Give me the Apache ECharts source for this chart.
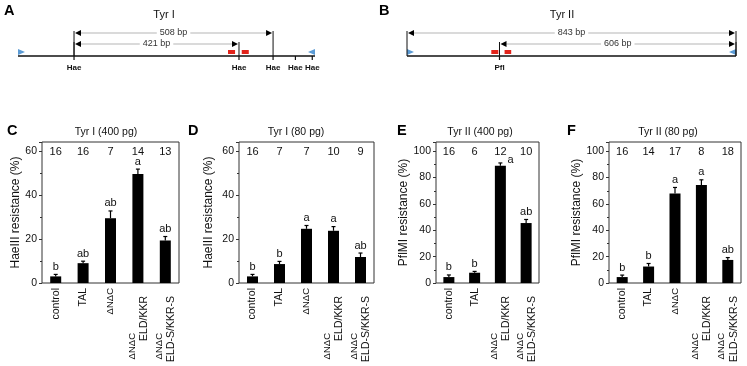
<!DOCTYPE html>
<html>
<head>
<meta charset="utf-8">
<script src="https://cdn.jsdelivr.net/npm/echarts@6/dist/echarts.min.js"></script>
<style>html,body{margin:0;padding:0;background:#fff}#c{width:747px;height:366px}</style>
</head>
<body>
<div id="c"></div>
<script>
const FONT = '"Liberation Sans", Arial, Helvetica, sans-serif';
const TXT = '#111';

// ---------- Panel A: Tyr I locus (bp, relative to first HaeIII site)
const tyr1Span = [-143, 615];
const tyr1Sites = [0, 421, 508, 565, 608];
const tyr1SiteName = 'Hae';
const tyr1Arrows = [[0, 508], [0, 421]];
const tyr1ArrowLabels = ['508 bp', '421 bp'];
const tyr1Tal = [[393, 411], [428, 446]];
const tyr1Primers = [[-143, 1], [615, -1]];

// ---------- Panel B: Tyr II locus
const tyr2Span = [0, 843];
const tyr2Sites = [237];
const tyr2SiteName = 'Pfl';
const tyr2Arrows = [[0, 843], [237, 843]];
const tyr2ArrowLabels = ['843 bp', '606 bp'];
const tyr2Tal = [[216, 234], [250, 267]];
const tyr2Primers = [[0, 1], [843, -1]];

// ---------- Bar panels
const catsFive = ['control', 'TAL', 'ΔNΔC', 'ΔNΔC\nELD/KKR', 'ΔNΔC\nELD-S/KKR-S'];
const catsFour = ['control', 'TAL', 'ΔNΔC\nELD/KKR', 'ΔNΔC\nELD-S/KKR-S'];

const valC = [3.0, 9.0, 29.4, 49.5, 19.3];
const errC = [0.9, 0.9, 3.3, 2.2, 1.8];
const nC = [16, 16, 7, 14, 13];
const sigC = ['b', 'ab', 'ab', 'a', 'ab'];

const valD = [3.0, 8.6, 24.6, 23.7, 11.8];
const errD = [0.9, 1.2, 1.5, 1.9, 1.8];
const nD = [16, 7, 7, 10, 9];
const sigD = ['b', 'b', 'a', 'a', 'ab'];

const valE = [4.5, 7.8, 89.0, 45.5];
const errE = [1.6, 1.0, 2.1, 2.7];
const nE = [16, 6, 12, 10];
const sigE = ['b', 'b', 'a', 'ab'];

const valF = [4.5, 12.5, 68.0, 74.3, 17.5];
const errF = [1.5, 2.3, 4.5, 4.0, 1.8];
const nF = [16, 14, 17, 8, 18];
const sigF = ['b', 'b', 'a', 'a', 'ab'];

const ticksHae = [0, 20, 40, 60];
const ticksPfl = [0, 20, 40, 60, 80, 100];

const panels = [
  {letter: 'C', title: 'Tyr I (400 pg)', cats: catsFive, val: valC, err: errC, n: nC, sig: sigC, ticks: ticksHae, yname: 'HaeIII resistance (%)',
   left: 42, width: 137, ymax: 64, nameGap: 15, titleX: 106, letterX: 7},
  {letter: 'D', title: 'Tyr I (80 pg)', cats: catsFive, val: valD, err: errD, n: nD, sig: sigD, ticks: ticksHae, yname: 'HaeIII resistance (%)',
   left: 239, width: 135, ymax: 64, nameGap: 24, titleX: 296, letterX: 188},
  {letter: 'E', title: 'Tyr II (400 pg)', cats: catsFour, val: valE, err: errE, n: nE, sig: sigE, ticks: ticksPfl, yname: 'PflMI resistance (%)',
   left: 436, width: 103, ymax: 107, nameGap: 26, titleX: 480, letterX: 397},
  {letter: 'F', title: 'Tyr II (80 pg)', cats: catsFive, val: valF, err: errF, n: nF, sig: sigF, ticks: ticksPfl, yname: 'PflMI resistance (%)',
   left: 609, width: 132, ymax: 107, nameGap: 26, titleX: 668, letterX: 567}
];

const GTOP = 142, GH = 141;

const grid = [], xAxis = [], yAxis = [], series = [], graphic = [];

panels.forEach((p, k) => {
  grid.push({left: p.left, top: GTOP, width: p.width, height: GH, show: true, borderColor: '#333', borderWidth: 1, backgroundColor: 'transparent'});
  xAxis.push({
    type: 'category', gridIndex: k, data: p.cats,
    axisLine: {show: false}, axisTick: {show: false},
    axisLabel: {
      interval: 0, rotate: 90, margin: 5, fontSize: 10.5, fontFamily: FONT, color: TXT,
      formatter: function (v) {
        const parts = v.split('\n');
        if (parts.length === 1) return parts[0] === 'ΔNΔC' ? '{d|ΔNΔC}' : v;
        return '{a|' + parts[0] + '}\n{b|' + parts[1] + '}';
      },
      rich: {
        d: {fontSize: 9.5, fontFamily: FONT, color: TXT},
        a: {align: 'right', padding: [0, 45, 0, 0], fontSize: 9.5, fontFamily: FONT, color: TXT, lineHeight: 12},
        b: {align: 'right', padding: [0, 8, 0, 0], fontSize: 10.5, fontFamily: FONT, color: TXT, lineHeight: 12}
      }
    }
  });
  yAxis.push({
    type: 'value', gridIndex: k, min: 0, max: p.ymax, interval: 20,
    name: p.yname, nameLocation: 'middle', nameGap: p.nameGap,
    nameTextStyle: {fontSize: 12, fontFamily: FONT, color: TXT},
    axisLine: {show: false}, splitLine: {show: false},
    axisTick: {show: true, length: 3, lineStyle: {color: '#333'}},
    minorTick: {show: true, splitNumber: 2, length: 2, lineStyle: {color: '#333'}},
    axisLabel: {fontSize: 10.5, fontFamily: FONT, color: TXT, margin: 5,
      formatter: v => (p.ticks.indexOf(v) >= 0 ? String(v) : '')}
  });
  series.push({
    type: 'bar', xAxisIndex: k, yAxisIndex: k, data: p.val, barWidth: 11,
    itemStyle: {color: '#000'}, silent: true, animation: false
  });
  series.push({
    type: 'custom', xAxisIndex: k, yAxisIndex: k, silent: true, animation: false,
    data: p.val.map((v, i) => [i, v, p.err[i]]),
    renderItem: function (params, api) {
      const i = api.value(0), v = api.value(1), e = api.value(2);
      const p0 = api.coord([i, v]), p1 = api.coord([i, v + e]);
      const cs = params.coordSys;
      const sig = p.sig[params.dataIndex];
      const crowded = p1[1] - 14 < cs.y + 10;
      const txt = crowded
        ? {text: sig, x: p1[0] + 7, y: p1[1] - 3, align: 'left', verticalAlign: 'middle', fill: TXT, fontSize: 11, fontFamily: FONT}
        : {text: sig, x: p1[0], y: p1[1] - 2, align: 'center', verticalAlign: 'bottom', fill: TXT, fontSize: 11, fontFamily: FONT};
      return {type: 'group', children: [
        {type: 'line', shape: {x1: p0[0], y1: p0[1], x2: p1[0], y2: p1[1]}, style: {stroke: '#000', lineWidth: 1.2}},
        {type: 'line', shape: {x1: p1[0] - 2, y1: p1[1], x2: p1[0] + 2, y2: p1[1]}, style: {stroke: '#000', lineWidth: 1.2}},
        {type: 'text', style: txt}
      ]};
    }
  });
  series.push({
    type: 'custom', xAxisIndex: k, yAxisIndex: k, silent: true, animation: false,
    data: p.n.map((v, i) => [i, 0]),
    renderItem: function (params, api) {
      const c = api.coord([api.value(0), 0]);
      return {type: 'text', style: {text: String(p.n[params.dataIndex]), x: c[0], y: params.coordSys.y + 9.5,
        align: 'center', verticalAlign: 'middle', fill: TXT, fontSize: 11, fontFamily: FONT}};
    }
  });
  graphic.push({type: 'text', x: p.letterX, y: 131, style: {text: p.letter, font: 'bold 14.5px ' + FONT, fill: '#000', textAlign: 'left', textVerticalAlign: 'middle', align: 'left', verticalAlign: 'middle'}});
  graphic.push({type: 'text', x: p.titleX, y: 132, style: {text: p.title, font: '10.5px ' + FONT, fill: TXT, textAlign: 'center', textVerticalAlign: 'middle', align: 'center', verticalAlign: 'middle'}});
});

// ---------- schematics
function schematic(ax, span, sites, siteName, arrows, arrowLabels, tal, primers) {
  const base = {type: 'custom', xAxisIndex: ax, yAxisIndex: ax, silent: true, animation: false};
  const out = [];
  out.push(Object.assign({}, base, {
    data: [[span[0], 0]],
    renderItem: function (params, api) {
      const a = api.coord([span[0], 0]), b = api.coord([span[1], 0]);
      return {type: 'line', shape: {x1: a[0], y1: a[1], x2: b[0], y2: b[1]}, style: {stroke: '#111', lineWidth: 1.6}};
    }
  }));
  out.push(Object.assign({}, base, {
    data: primers.map(d => [d[0], 0]),
    renderItem: function (params, api) {
      const d = primers[params.dataIndex];
      const c = api.coord([d[0], 0]);
      const yc = c[1] - 4, dir = d[1];
      return {type: 'polygon', shape: {points: [[c[0], yc - 3], [c[0], yc + 3], [c[0] + dir * 7, yc]]}, style: {fill: '#5b9bd5'}};
    }
  }));
  out.push(Object.assign({}, base, {
    data: tal.map(d => [d[0], 0]),
    renderItem: function (params, api) {
      const d = tal[params.dataIndex];
      const a = api.coord([d[0], 0]), b = api.coord([d[1], 0]);
      return {type: 'rect', shape: {x: a[0], y: a[1] - 6, width: b[0] - a[0], height: 4}, style: {fill: '#e2231a'}};
    }
  }));
  out.push(Object.assign({}, base, {
    data: sites.map(s => [s, 0]),
    renderItem: function (params, api) {
      const c = api.coord([sites[params.dataIndex], 0]);
      return {type: 'group', children: [
        {type: 'line', shape: {x1: c[0], y1: c[1], x2: c[0], y2: c[1] + 4}, style: {stroke: '#111', lineWidth: 1.2}},
        {type: 'text', style: {text: siteName, x: c[0], y: c[1] + 12, align: 'center', verticalAlign: 'middle', fill: '#111', fontSize: 8, fontWeight: 'bold', fontFamily: FONT}}
      ]};
    }
  }));
  out.push(Object.assign({}, base, {
    data: arrows.map(d => [d[0], 0]),
    renderItem: function (params, api) {
      const idx = params.dataIndex, d = arrows[idx];
      const a = api.coord([d[0], 0]), b = api.coord([d[1], 0]);
      const yb = a[1];
      const y = yb - 23 + 11 * idx;
      const top = y - 2;
      const mid = (a[0] + b[0]) / 2;
      return {type: 'group', children: [
        {type: 'line', shape: {x1: a[0], y1: top, x2: a[0], y2: yb}, style: {stroke: '#111', lineWidth: 1}},
        {type: 'line', shape: {x1: b[0], y1: top, x2: b[0], y2: yb}, style: {stroke: '#111', lineWidth: 1}},
        {type: 'line', shape: {x1: a[0] + 5, y1: y, x2: b[0] - 5, y2: y}, style: {stroke: '#b5b5b5', lineWidth: 1}},
        {type: 'polygon', shape: {points: [[a[0] + 1, y], [a[0] + 7, y - 3], [a[0] + 7, y + 3]]}, style: {fill: '#000'}},
        {type: 'polygon', shape: {points: [[b[0] - 1, y], [b[0] - 7, y - 3], [b[0] - 7, y + 3]]}, style: {fill: '#000'}},
        {type: 'text', style: {text: arrowLabels[idx], x: mid, y: y, align: 'center', verticalAlign: 'middle', fill: '#333', fontSize: 9, fontFamily: FONT, backgroundColor: '#fff', padding: [0, 3]}}
      ]};
    }
  }));
  return out;
}

grid.push({left: 18, top: 31, width: 297, height: 25, show: false});
xAxis.push({type: 'value', gridIndex: 4, min: tyr1Span[0], max: tyr1Span[1], show: false});
yAxis.push({type: 'value', gridIndex: 4, min: 0, max: 1, show: false});
grid.push({left: 407, top: 31, width: 329, height: 25, show: false});
xAxis.push({type: 'value', gridIndex: 5, min: tyr2Span[0], max: tyr2Span[1], show: false});
yAxis.push({type: 'value', gridIndex: 5, min: 0, max: 1, show: false});

schematic(4, tyr1Span, tyr1Sites, tyr1SiteName, tyr1Arrows, tyr1ArrowLabels, tyr1Tal, tyr1Primers).forEach(s => series.push(s));
schematic(5, tyr2Span, tyr2Sites, tyr2SiteName, tyr2Arrows, tyr2ArrowLabels, tyr2Tal, tyr2Primers).forEach(s => series.push(s));

graphic.push({type: 'text', x: 4, y: 11, style: {text: 'A', font: 'bold 14.5px ' + FONT, fill: '#000', textAlign: 'left', textVerticalAlign: 'middle', align: 'left', verticalAlign: 'middle'}});
graphic.push({type: 'text', x: 379, y: 11, style: {text: 'B', font: 'bold 14.5px ' + FONT, fill: '#000', textAlign: 'left', textVerticalAlign: 'middle', align: 'left', verticalAlign: 'middle'}});
graphic.push({type: 'text', x: 164, y: 15, style: {text: 'Tyr I', font: '11px ' + FONT, fill: TXT, textAlign: 'center', textVerticalAlign: 'middle', align: 'center', verticalAlign: 'middle'}});
graphic.push({type: 'text', x: 562, y: 15, style: {text: 'Tyr II', font: '11px ' + FONT, fill: TXT, textAlign: 'center', textVerticalAlign: 'middle', align: 'center', verticalAlign: 'middle'}});

const chart = echarts.init(document.getElementById('c'));
chart.setOption({animation: false, backgroundColor: '#fff', grid, xAxis, yAxis, series, graphic});
</script>
</body>
</html>
